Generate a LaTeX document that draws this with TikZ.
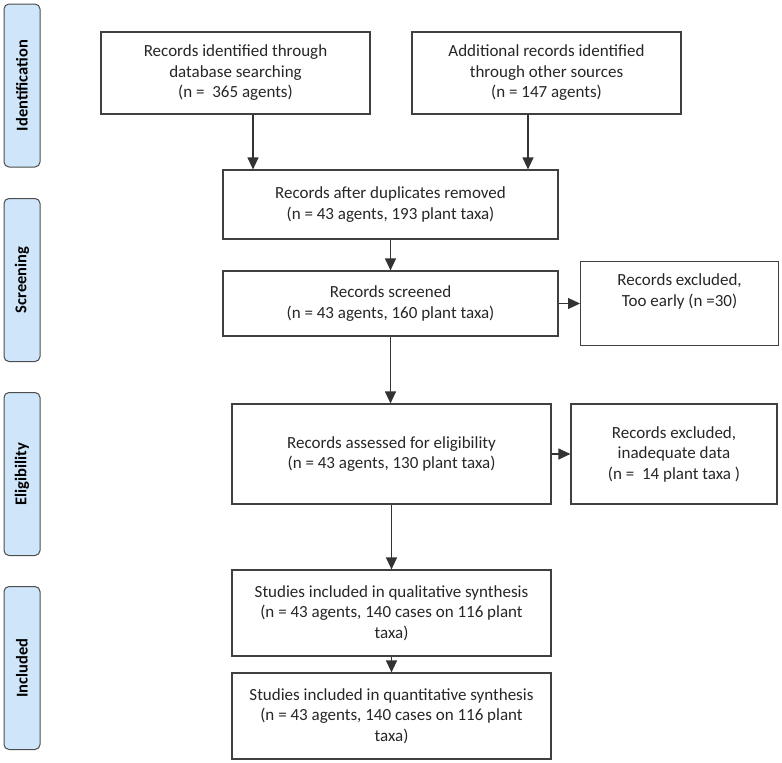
\documentclass[tikz,border=0pt]{standalone}
\usepackage{fontspec}
\setmainfont{Carlito}
\usepackage{tikz}
\usetikzlibrary{arrows.meta}

\begin{document}
\begin{tikzpicture}[x=1pt,y=-1pt]
    \tikzset { phase/.style = { shape=rectangle,rounded corners=5pt,draw=black!70,line width=1pt,
        fill={rgb,255:red,207;green,230;blue,250},rotate=90,minimum width=163pt,minimum height=36pt,
        inner sep=0pt,font=\fontsize{16.5}{19}\selectfont\bfseries } }
    \tikzset { record/.style = { shape=rectangle,draw=black!75,line width=1.2pt,align=center,
        inner sep=2pt,text=black!85,font=\fontsize{17}{20.5}\selectfont } }
    \tikzset { edge/.style = { -{Triangle[length=12pt,width=11pt]},line width=1.2pt,draw=black!80 } }

    \useasboundingbox (0,0) rectangle (782,763);

    \node[phase] (ident) at (22,85.5) {Identification};
    \node[phase] (screen) at (22,280) {Screening};
    \node[phase] (elig) at (22,474) {Eligibility};
    \node[phase] (incl) at (22,668) {Included};

    \node[record,minimum width=269pt,minimum height=82pt] (dbs) at (235.5,73)
      {Records identified through\\database searching\\(n =\ \ 365 agents)};
    \node[record,minimum width=269pt,minimum height=82pt] (other) at (546.5,73)
      {Additional records identified\\through other sources\\(n = 147 agents)};
    \node[record,minimum width=335pt,minimum height=69pt] (dup) at (390.5,204.5)
      {Records after duplicates removed\\(n = 43 agents, 193 plant taxa)};
    \node[record,minimum width=335pt,minimum height=65pt] (scr) at (390.5,303.5)
      {Records screened\\(n = 43 agents, 160 plant taxa)};
    \node[record,minimum width=198pt,minimum height=84pt,anchor=north west] (early) at (580,261)
      {Records excluded,\\Too early (n =30)\\ \strut};
    \node[record,minimum width=319pt,minimum height=100pt] (assess) at (391.5,454)
      {Records assessed for eligibility\\(n = 43 agents, 130 plant taxa)};
    \node[record,minimum width=206pt,minimum height=100pt] (inadeq) at (674,454)
      {Records excluded,\\inadequate data\\(n =\ \ 14 plant taxa )};
    \node[record,minimum width=319pt,minimum height=86pt] (qual) at (391.5,613)
      {Studies included in qualitative synthesis\\(n = 43 agents, 140 cases on 116 plant\\taxa)};
    \node[record,minimum width=319pt,minimum height=86pt] (quant) at (391.5,716)
      {Studies included in quantitative synthesis\\(n = 43 agents, 140 cases on 116 plant\\taxa)};

    \draw[edge] ([xshift=17.5pt]dbs.south) -- ([xshift=17.5pt]dbs.south |- dup.north);
    \draw[edge] ([xshift=-18.5pt]other.south) -- ([xshift=-18.5pt]other.south |- dup.north);
    \draw[edge] (dup) -- (scr);
    \draw[edge] (scr.east) -- (scr.east -| early.west);
    \draw[edge] (scr.south) -- (scr.south |- assess.north);
    \draw[edge] (assess) -- (inadeq);
    \draw[edge] (assess) -- (qual);
    \draw[edge] (qual) -- (quant);

\end{tikzpicture}
\end{document}
